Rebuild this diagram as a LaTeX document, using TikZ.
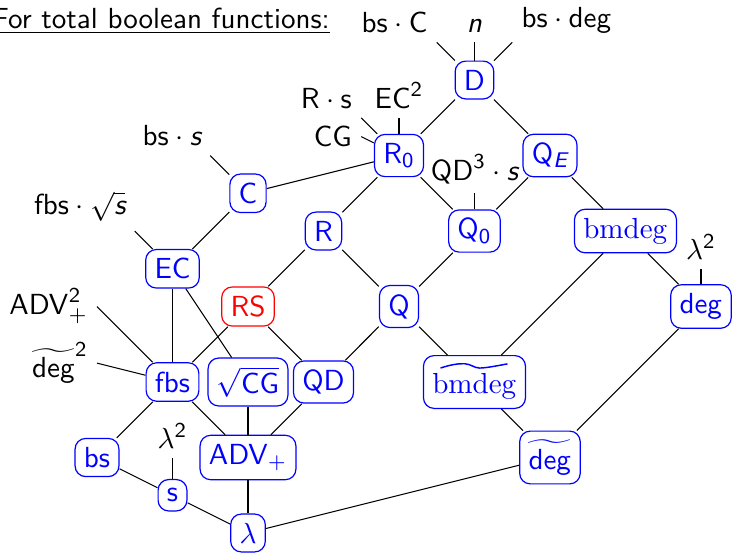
\documentclass[tikz,border=0pt]{standalone}
\usepackage{amsmath}
\renewcommand{\familydefault}{\sfdefault}
\newcommand{\sfit}[1]{\text{\sffamily\itshape #1}}
\begin{document}
\begin{tikzpicture}[
  every node/.style={font=\fontsize{10.95}{13}\selectfont},
  cls/.style={draw=blue, text=blue, rounded corners=4pt, line width=0.45pt, inner sep=0.3333em},
  bad/.style={cls, draw=red, text=red},
  lbl/.style={text=black, inner sep=0.3333em},
  link/.style={line width=0.4pt}
]
\useasboundingbox (-1.285,1.06) rectangle (8.411,-6.265);

% heading
\node[anchor=base east, inner sep=0] (title) at (3.09,0.689) {\underline{For total boolean functions:}};

% complexity measures
\node[cls] (D)     at (5,0)    {D};
\node[cls] (R0)    at (4,-1)   {$\mathsf{R}_{\mathsf{0}}$};
\node[cls] (QE)    at (6,-1)   {$\mathsf{Q}_{\sfit{E}}$};
\node[cls] (C)     at (2,-1.5) {C};
\node[cls] (R)     at (3,-2)   {R};
\node[cls] (Q0)    at (5,-2)   {$\mathsf{Q}_{\mathsf{0}}$};
\node[cls] (bmdeg) at (7,-2)   {$\mathrm{bmdeg}$};
\node[cls] (EC)    at (1,-2.5) {EC};
\node[bad] (RS)    at (2,-3)   {RS};
\node[cls] (Q)     at (4,-3)   {Q};
\node[cls] (deg)   at (8,-3)   {$\mathsf{deg}$};
\node[cls] (fbs)   at (1,-4)   {fbs};
\node[cls] (sCG)   at (2,-4)   {$\sqrt{\mathsf{CG}}$};
\node[cls] (QD)    at (3,-4)   {QD};
\node[cls] (bmt)   at (5,-4)   {$\vphantom{\widetilde{\mathrm{bmdeg}}}\mathrm{bmdeg}$};
\node[cls] (bs)    at (0,-5)   {bs};
\node[cls] (ADV)   at (2,-5)   {$\mathsf{ADV}_+$};
\node[cls] (degt)  at (6,-5)   {$\widetilde{\mathsf{deg}}$};
\node[cls] (s)     at (1,-5.5) {s};
\node[cls] (lam)   at (2,-6)   {$\lambda$};

% wide tilde over bmdeg
\begin{scope}[shift={(bmt.center)}]
  \draw[blue, line width=0.55pt] (-0.45,0.185)
    .. controls (-0.3,0.235) and (-0.2,0.245) .. (-0.13,0.242)
    .. controls (-0.05,0.238) and (0.0,0.185) .. (0.066,0.185)
    .. controls (0.15,0.185) and (0.3,0.215) .. (0.437,0.24);
\end{scope}

% relations
\draw[link] (D) -- (R0);
\draw[link] (D) -- (QE);
\draw[link] (R0) -- (C);
\draw[link] (R0) -- (R);
\draw[link] (R0) -- (Q0);
\draw[link] (QE) -- (Q0);
\draw[link] (QE) -- (bmdeg);
\draw[link] (C) -- (EC);
\draw[link] (R) -- (RS);
\draw[link] (R) -- (Q);
\draw[link] (Q0) -- (Q);
\draw[link] (bmdeg) -- (bmt);
\draw[link] (bmdeg) -- (deg);
\draw[link] (EC) -- (fbs);
\draw[link] (EC) -- (sCG);
\draw[link] (RS) -- (fbs);
\draw[link] (RS) -- (QD);
\draw[link] (Q) -- (QD);
\draw[link] (Q) -- (bmt);
\draw[link] (deg) -- (degt);
\draw[link] (fbs) -- (bs);
\draw[link] (fbs) -- (ADV);
\draw[link] (sCG) -- (ADV);
\draw[link] (QD) -- (ADV);
\draw[link] (bmt) -- (degt);
\draw[link] (bs) -- (s);
\draw[link] (s) -- (lam);
\draw[link] (ADV) -- (lam);
\draw[link] (lam) -- (degt);

% bound stubs
\path (D) ++(-0.5,0.5) coordinate (dD1);
\path (D) ++(0,0.5) coordinate (dD2);
\path (D) ++(0.5,0.5) coordinate (dD3);
\path (R0) ++(-0.5,0.5) coordinate (dR1);
\path (R0) ++(-0.5,0.25) coordinate (dR2);
\path (R0) ++(0,0.5) coordinate (dR3);
\path (C) ++(-0.5,0.5) coordinate (dC);
\path (EC) ++(-0.5,0.5) coordinate (dEC);
\path (Q0) ++(0,0.5) coordinate (dQ0);
\path (deg) ++(0,0.5) coordinate (ddeg);
\path (fbs) ++(-1,1) coordinate (dF1);
\path (fbs) ++(-1,0.25) coordinate (dF2);
\path (s) ++(0,0.5) coordinate (ds);

\draw[link] (D) -- (dD1);
\draw[link] (D) -- (dD2);
\draw[link] (D) -- (dD3);
\draw[link] (R0) -- (dR1);
\draw[link] (R0) -- (dR2);
\draw[link] (R0) -- (dR3);
\draw[link] (C) -- (dC);
\draw[link] (EC) -- (dEC);
\draw[link] (Q0) -- (dQ0);
\draw[link] (deg) -- (ddeg);
\draw[link] (fbs) -- (dF1);
\draw[link] (fbs) -- (dF2);
\draw[link] (s) -- (ds);

\node[lbl, anchor=south east] (tD1) at (dD1) {$\mathsf{bs}\cdot\mathsf{C}$};
\node[lbl, anchor=south]      (tD2) at (dD2) {$\sfit{n}$};
\node[lbl, anchor=south west] (tD3) at (dD3) {$\mathsf{bs}\cdot\mathsf{deg}$};
\node[lbl, anchor=south east] (tR1) at (dR1) {$\mathsf{R}\cdot\mathsf{s}$};
\node[lbl, anchor=east]       (tR2) at (dR2) {CG};
\node[lbl, anchor=south]      (tR3) at (dR3) {$\mathsf{EC}^{\mathsf{2}}$};
\node[lbl, anchor=south east] (tC)  at (dC)  {$\mathsf{bs}\cdot\sfit{s}$};
\node[lbl, anchor=south east] (tEC) at (dEC) {$\mathsf{fbs}\cdot\sqrt{\sfit{s}}$};
\node[lbl, anchor=south]      (tQ0) at (dQ0) {$\mathsf{QD}^{\mathsf{3}}\cdot\sfit{s}$};
\node[lbl, anchor=south]      (tdeg) at (ddeg) {$\lambda^{\mathsf{2}}$};
\node[lbl, anchor=east]       (tF1) at (dF1) {$\mathsf{ADV}_+^{\mathsf{2}}$};
\node[lbl, anchor=east]       (tF2) at (dF2) {$\widetilde{\mathsf{deg}}^{\mathsf{2}}$};
\node[lbl, anchor=south]      (ts)  at (ds)  {$\lambda^{\mathsf{2}}$};
\end{tikzpicture}
\end{document}
